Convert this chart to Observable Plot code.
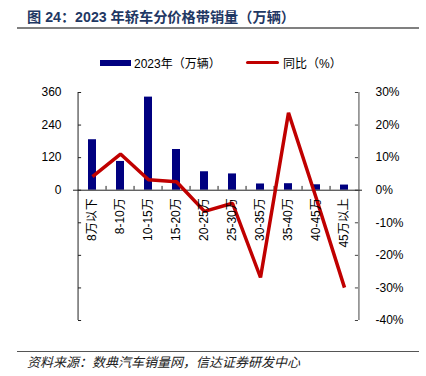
<!DOCTYPE html>
<html><head><meta charset="utf-8">
<script src="https://cdn.jsdelivr.net/npm/d3@7"></script>
<script src="https://cdn.jsdelivr.net/npm/@observablehq/plot@0.6"></script>
<style>
body{margin:0;background:#fff;width:426px;height:376px;position:relative;overflow:hidden;font-family:"Liberation Sans","Noto Sans CJK SC",sans-serif;}
.abs{position:absolute;}
#title{left:27px;top:6px;font-size:14.2px;font-weight:bold;color:#1F3864;white-space:nowrap;}
.rule{background:#808080;height:2px;left:17px;width:402px;}
.leg{font-size:12px;color:#000;white-space:nowrap;}
#src{left:27px;top:352px;font-size:13px;font-style:italic;color:#222;white-space:nowrap;font-family:"Noto Sans CJK SC",sans-serif;}
#chart{left:0;top:80px;}
</style></head><body>
<div id="title" class="abs">图 24：2023 年轿车分价格带销量（万辆）</div>
<div class="abs rule" style="top:27px"></div>
<div class="abs" style="left:100px;top:60px;width:31px;height:6px;background:#000080"></div>
<div class="abs leg" style="left:134px;top:54px">2023年（万辆）</div>
<div class="abs" style="left:246px;top:61px;width:33px;height:3px;background:#C00000;border-radius:2px"></div>
<div class="abs leg" style="left:283px;top:54px">同比（%）</div>
<div id="chart" class="abs"></div>
<div class="abs rule" style="top:351px;height:1px;background:#555"></div>
<div id="src" class="abs">资料来源：数典汽车销量网，信达证券研发中心</div>
<script>
const categories = ["8万以下","8-10万","10-15万","15-20万","20-25万","25-30万","30-35万","35-40万","40-45万","45万以上"];
const sales = [186, 106, 343, 150, 68, 60, 23, 24, 20, 19];
const yoy = [4.2, 11.1, 3.2, 2.6, -6.5, -4.0, -26.8, 23.8, -2.7, -29.9];
const leftTicks = [-480, -360, -240, -120, 0, 120, 240, 360];
const rightTicksPct = [-40, -30, -20, -10, 0, 10, 20, 30];

const k = 12; // 10% on right axis == 120 on left axis
const bars = categories.map((c, i) => ({cat: c, v: sales[i]}));
const line = categories.map((c, i) => ({cat: c, v: yoy[i] * k}));
const rightTicks = rightTicksPct.map(d => d * k);

const W = 426, mL = 73, mR = 64;
const step = (W - mL - mR) / categories.length;
const first = categories[0], last = categories[categories.length - 1];

const chart = Plot.plot({
  width: W,
  height: 255,
  marginTop: 12,
  marginBottom: 15,
  marginLeft: mL,
  marginRight: mR,
  style: {fontFamily: '"Liberation Sans","Noto Sans CJK SC",sans-serif', fontSize: "12px", color: "#000", background: "#fff"},
  x: {domain: categories, padding: 0, axis: null},
  y: {domain: [-480, 360], axis: null},
  marks: [
    Plot.axisY({anchor: "left", ticks: leftTicks, tickSize: 0, tickPadding: 12, label: null,
      tickFormat: d => d >= 0 ? String(d) : "", fontSize: 12, fill: "#000"}),
    Plot.axisY({anchor: "right", ticks: rightTicks, tickSize: 0, tickPadding: 13, label: null,
      tickFormat: d => Math.round(d / k) + "%", fontSize: 12, fill: "#000"}),
    Plot.barY(bars, {x: "cat", y: "v", fill: "#000080", insetLeft: 10, insetRight: 10}),
    Plot.ruleX([first], {x: d => d, y1: -480, y2: 360, dx: -step / 2, stroke: "#222"}),
    Plot.ruleX([last], {x: d => d, y1: -480, y2: 360, dx: step / 2, stroke: "#444"}),
    Plot.tickY(leftTicks, {x: () => first, y: d => d, insetRight: step - 4, stroke: "#222"}),
    Plot.tickY(rightTicks, {x: () => last, y: d => d, insetLeft: step - 4, stroke: "#444"}),
    Plot.ruleY([0], {stroke: "#222"}),
    Plot.ruleX(categories.slice(1), {x: d => d, y1: 0, y2: 14, dx: -step / 2, stroke: "#222"}),
    Plot.line(line, {x: "cat", y: "v", stroke: "#C00000", strokeWidth: 3.5, strokeLinejoin: "miter", strokeLinecap: "butt"}),
    Plot.text(categories, {x: d => d, y: 0, text: d => d, rotate: -90, textAnchor: "end", dy: 8, fontSize: 12, fill: "#000",
      fontFamily: '"Liberation Sans","Noto Sans CJK SC",sans-serif'})
  ]
});
document.getElementById("chart").appendChild(chart);
</script>
</body></html>
